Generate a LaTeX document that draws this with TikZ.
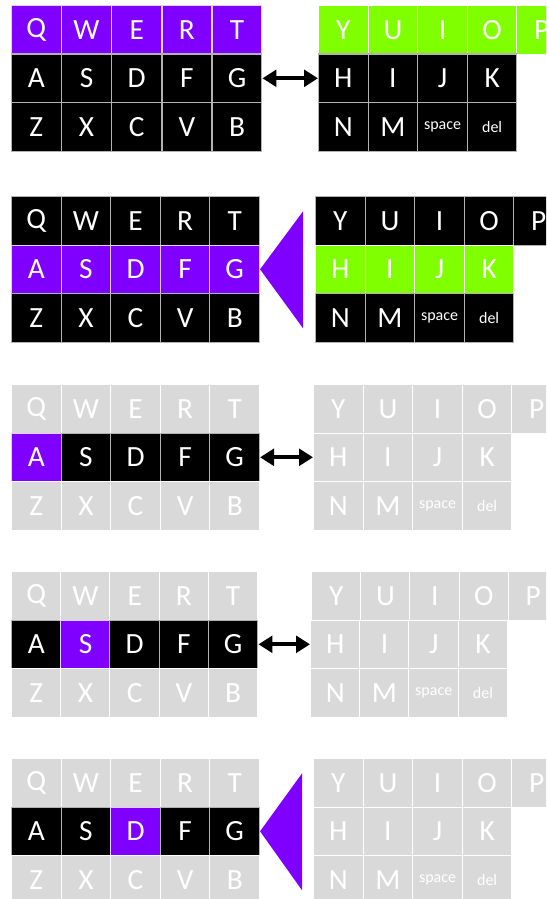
\documentclass[tikz,border=0pt]{standalone}
\usepackage{fontspec}
\setmainfont{Carlito}
\usetikzlibrary{arrows.meta}

\definecolor{keypurple}{HTML}{7F00FF}
\definecolor{keygreen}{HTML}{80FF00}
\definecolor{keygrey}{HTML}{D9D9D9}

\begin{document}
\begin{tikzpicture}[x=0.75pt,y=-0.75pt]
    % Define the styles for the keys and arrows
    \tikzstyle{key}=[rectangle, draw=white!70!black, line width=0.8pt, fill=black, text=white, anchor=north west, inner sep=0pt, minimum width=37.2pt, minimum height=36.4pt, font=\fontsize{22}{22}\selectfont]
    \tikzstyle{purplekey}=[key, fill=keypurple, draw=white!80!keypurple]
    \tikzstyle{greenkey}=[key, fill=keygreen, draw=white]
    \tikzstyle{greykey}=[key, fill=keygrey, draw=white]
    \tikzstyle{arrow}=[line width=3pt, {Triangle[length=10.5pt,width=12.5pt]}-{Triangle[length=10.5pt,width=12.5pt]}]
    \tikzstyle{pointer}=[fill=keypurple]

    \useasboundingbox (0,0) rectangle (546,899);
    \clip (0,0) rectangle (546,899);

    % Panel 1: top rows selected
    \foreach \k [count=\i from 0] in {Q,W,E,R,T} \node[purplekey] (p1l1c\i) at (11+50.2*\i,5) {\k};
    \foreach \k [count=\i from 0] in {A,S,D,F,G} \node[key] (p1l2c\i) at (11+50.2*\i,53.5) {\k};
    \foreach \k [count=\i from 0] in {Z,X,C,V,B} \node[key] (p1l3c\i) at (11+50.2*\i,102) {\k};
    \foreach \k [count=\i from 0] in {Y,U,I,O,P} \node[greenkey] (p1r1c\i) at (318+49.6*\i,5) {\k};
    \foreach \k [count=\i from 0] in {H,I,J,K} \node[key] (p1r2c\i) at (318+49.6*\i,53.5) {\k};
    \foreach \k [count=\i from 0] in {N,M,{\fontsize{12}{12}\selectfont space},{\fontsize{12}{12}\selectfont del}} \node[key] (p1r3c\i) at (318+49.6*\i,102) {\k};
    \draw[arrow] (p1l2c4.east) -- (p1r2c0.west);

    % Panel 2: middle rows selected
    \foreach \k [count=\i from 0] in {Q,W,E,R,T} \node[key] (p2l1c\i) at (11+49.6*\i,196) {\k};
    \foreach \k [count=\i from 0] in {A,S,D,F,G} \node[purplekey] (p2l2c\i) at (11+49.6*\i,244.5) {\k};
    \foreach \k [count=\i from 0] in {Z,X,C,V,B} \node[key] (p2l3c\i) at (11+49.6*\i,293) {\k};
    \foreach \k [count=\i from 0] in {Y,U,I,O,P} \node[key] (p2r1c\i) at (315+49.6*\i,196) {\k};
    \foreach \k [count=\i from 0] in {H,I,J,K} \node[greenkey] (p2r2c\i) at (315+49.6*\i,244.5) {\k};
    \foreach \k [count=\i from 0] in {N,M,{\fontsize{12}{12}\selectfont space},{\fontsize{12}{12}\selectfont del}} \node[key] (p2r3c\i) at (315+49.6*\i,293) {\k};
    \fill[pointer] (p2l2c4.east) -- ++(43,-58) -- ++(0,117) -- cycle;

    % Panel 3: scanning A
    \foreach \k [count=\i from 0] in {Q,W,E,R,T} \node[greykey] (p3l1c\i) at (11+49.6*\i,384) {\k};
    \foreach \k/\s [count=\i from 0] in {A/purplekey,S/key,D/key,F/key,G/key} \node[\s] (p3l2c\i) at (11+49.6*\i,432.5) {\k};
    \foreach \k [count=\i from 0] in {Z,X,C,V,B} \node[greykey] (p3l3c\i) at (11+49.6*\i,481) {\k};
    \foreach \k [count=\i from 0] in {Y,U,I,O,P} \node[greykey] (p3r1c\i) at (313+49.6*\i,384) {\k};
    \foreach \k [count=\i from 0] in {H,I,J,K} \node[greykey] (p3r2c\i) at (313+49.6*\i,432.5) {\k};
    \foreach \k [count=\i from 0] in {N,M,{\fontsize{12}{12}\selectfont space},{\fontsize{12}{12}\selectfont del}} \node[greykey] (p3r3c\i) at (313+49.6*\i,481) {\k};
    \draw[arrow] (p3l2c4.east) -- (p3r2c0.west);

    % Panel 4: scanning S
    \foreach \k [count=\i from 0] in {Q,W,E,R,T} \node[greykey] (p4l1c\i) at (11+49.2*\i,571) {\k};
    \foreach \k/\s [count=\i from 0] in {A/key,S/purplekey,D/key,F/key,G/key} \node[\s] (p4l2c\i) at (11+49.2*\i,619.5) {\k};
    \foreach \k [count=\i from 0] in {Z,X,C,V,B} \node[greykey] (p4l3c\i) at (11+49.2*\i,668) {\k};
    \foreach \k [count=\i from 0] in {Y,U,I,O,P} \node[greykey] (p4r1c\i) at (311+49.2*\i,571) {\k};
    \foreach \k [count=\i from 0] in {H,I,J,K} \node[greykey] (p4r2c\i) at (310+49.2*\i,619.5) {\k};
    \foreach \k [count=\i from 0] in {N,M,{\fontsize{12}{12}\selectfont space},{\fontsize{12}{12}\selectfont del}} \node[greykey] (p4r3c\i) at (310+49.2*\i,668) {\k};
    \draw[arrow] (p4l2c4.east) -- (p4r2c0.west);

    % Panel 5: D selected
    \foreach \k [count=\i from 0] in {Q,W,E,R,T} \node[greykey] (p5l1c\i) at (11+49.6*\i,758) {\k};
    \foreach \k/\s [count=\i from 0] in {A/key,S/key,D/purplekey,F/key,G/key} \node[\s] (p5l2c\i) at (11+49.6*\i,806.5) {\k};
    \foreach \k [count=\i from 0] in {Z,X,C,V,B} \node[greykey] (p5l3c\i) at (11+49.6*\i,855) {\k};
    \foreach \k [count=\i from 0] in {Y,U,I,O,P} \node[greykey] (p5r1c\i) at (313+49.6*\i,758) {\k};
    \foreach \k [count=\i from 0] in {H,I,J,K} \node[greykey] (p5r2c\i) at (313+49.6*\i,806.5) {\k};
    \foreach \k [count=\i from 0] in {N,M,{\fontsize{12}{12}\selectfont space},{\fontsize{12}{12}\selectfont del}} \node[greykey] (p5r3c\i) at (313+49.6*\i,855) {\k};
    \fill[pointer] (p5l2c4.east) -- ++(42,-58) -- ++(0,117) -- cycle;
\end{tikzpicture}
\end{document}
